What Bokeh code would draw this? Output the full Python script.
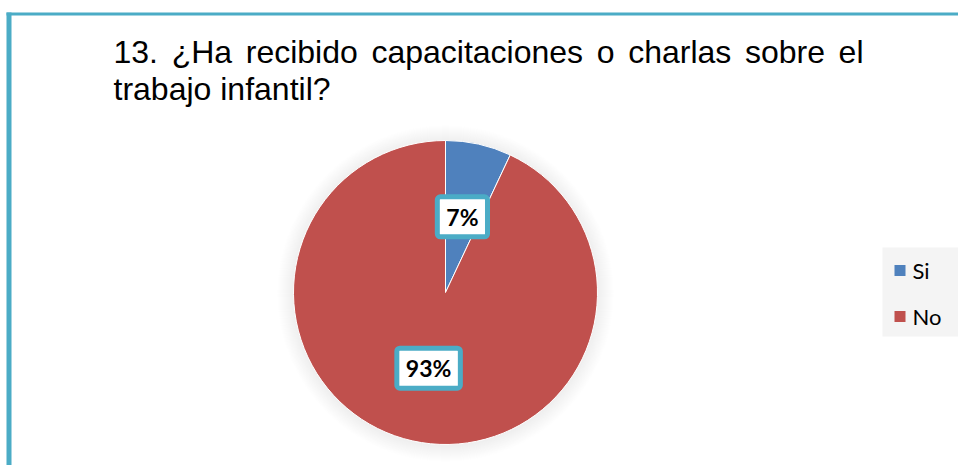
import numpy as np
from bokeh.plotting import figure
from bokeh.models import Range1d, Label
from bokeh.core.properties import value
from bokeh.embed import file_html
from bokeh.resources import INLINE

# ---- data ----
categories = ["Si", "No"]
percentages = [7, 93]
colors = ["#4F81BD", "#C0504D"]
title_line1 = "13. ¿Ha recibido capacitaciones o charlas sobre el"
title_line2 = "trabajo infantil?"

# ---- canvas in screen-like units (y_data = 465 - screen_y) ----
W, H = 958, 465
p = figure(width=W, height=H, x_range=Range1d(0, W), y_range=Range1d(0, H),
           output_backend="svg", toolbar_location=None,
           x_axis_location=None, y_axis_location=None, min_border=0)
p.grid.visible = False
p.outline_line_color = None
p.background_fill_color = "white"
p.border_fill_color = "white"

TEAL = "#4BACC6"
# frame lines (top and left)
p.segment(x0=[6], y0=[H - 13.5], x1=[W + 2], y1=[H - 13.5], line_color=TEAL, line_width=3)
p.segment(x0=[8.5], y0=[H - 12], x1=[8.5], y1=[-2], line_color=TEAL, line_width=5)

# ---- title (justified first line) ----
FS = 32
arial = {'1': 556, '3': 556, '.': 278, '¿': 611, 'H': 722, 'a': 556, 'r': 333, 'e': 556,
         'c': 500, 'i': 222, 'b': 556, 'd': 556, 'o': 556, 'p': 556, 't': 278, 'n': 556,
         's': 500, 'h': 556, 'l': 222, 'j': 222, 'f': 278, '?': 556, ' ': 278}
def tw(s):
    return sum(arial.get(ch, 556) for ch in s) / 1000.0 * FS

words = title_line1.split(" ")
left, right = 113, 863
ww = [tw(w) for w in words]
gap = (right - left - sum(ww)) / (len(words) - 1)
xs = []
cur = left
for w_ in ww:
    xs.append(cur)
    cur += w_ + gap
p.text(x=xs, y=[H - 51] * len(words), text=words, text_font=value("Liberation Sans"),
       text_font_size=f"{FS}px", text_color="black", text_baseline="alphabetic", text_align="left")
p.text(x=[left], y=[H - 88], text=[title_line2], text_font=value("Liberation Sans"),
       text_font_size=f"{FS}px", text_color="black", text_baseline="alphabetic", text_align="left")

# ---- pie ----
cx, cy, R = 445, H - 292, 152
# soft shadow/glow
for k in range(16, 0, -1):
    p.circle(x=[cx], y=[cy - 1], radius=R + k, fill_color="#808080", fill_alpha=0.012,
             line_color=None)

frac = np.array(percentages, dtype=float) / sum(percentages)
cum = np.concatenate([[0], np.cumsum(frac)])
top = np.pi / 2
ends = top - 2 * np.pi * cum[:-1]     # larger angle
starts = top - 2 * np.pi * cum[1:]    # smaller angle
p.wedge(x=[cx] * len(categories), y=[cy] * len(categories), radius=R,
        start_angle=list(starts), end_angle=list(ends), fill_color=colors,
        line_color="white", line_width=1)

# data labels
for s, e, v in zip(starts, ends, percentages):
    mid = (s + e) / 2
    lx = cx + 0.51 * R * np.cos(mid)
    ly = cy + 0.51 * R * np.sin(mid)
    lab = Label(x=lx, y=ly, text=f"{v}%", text_align="center", text_baseline="middle",
                text_font="Lato", text_font_style="bold", text_font_size="23px",
                text_color="black", background_fill_color="white",
                border_line_color=TEAL, border_line_width=5,
                padding=dict(left=9, right=9, top=6, bottom=6), border_radius=3)
    p.add_layout(lab)

# ---- legend ----
p.quad(left=[882], right=[W + 2], top=[H - 247], bottom=[H - 336],
       fill_color="#F4F4F4", line_color=None)
ly0 = H - 270
step = 46
lys = [ly0 - i * step for i in range(len(categories))]
p.rect(x=[899.5] * len(categories), y=lys, width=11, height=11, fill_color=colors, line_color=None)
p.text(x=[912] * len(categories), y=lys, text=categories, text_font=value("Lato"),
       text_font_size="22px", text_color="black", text_baseline="middle", text_align="left")

open("out.html", "w").write(file_html(p, INLINE))
